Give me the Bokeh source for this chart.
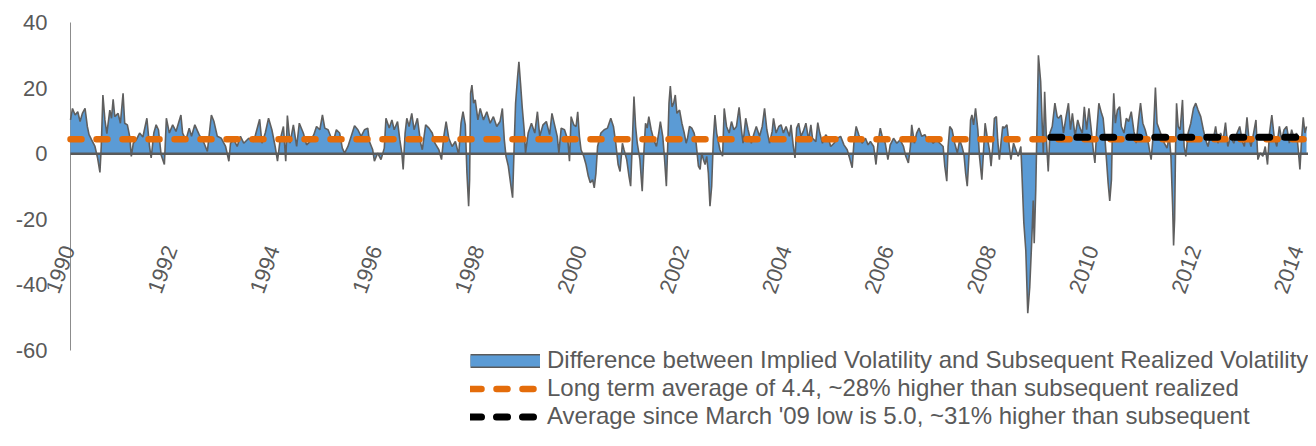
import math
from bokeh.plotting import figure
from bokeh.models import (Range1d, Legend, LegendItem, ColumnDataSource,
                          FixedTicker, LabelSet)
from bokeh.embed import file_html
from bokeh.resources import INLINE
from bokeh.core.properties import value

# ---------------- data ----------------
years_1990_1994 = [1990.000, 1990.039, 1990.090, 1990.142, 1990.187, 1990.232, 1990.284, 1990.329, 1990.362, 1990.413,
                   1990.478, 1990.529, 1990.575, 1990.601, 1990.633, 1990.672, 1990.710, 1990.768, 1990.801, 1990.833,
                   1990.865, 1990.930, 1990.975, 1991.027, 1991.059, 1991.111, 1991.156, 1991.188, 1991.227, 1991.285,
                   1991.350, 1991.414, 1991.492, 1991.544, 1991.576, 1991.628, 1991.673, 1991.718, 1991.770, 1991.834,
                   1991.873, 1991.931, 1991.996, 1992.061, 1992.157, 1992.190, 1992.254, 1992.319, 1992.364, 1992.429,
                   1992.513, 1992.610, 1992.674, 1992.752, 1992.803, 1992.868, 1992.946, 1993.030, 1993.094, 1993.126,
                   1993.191, 1993.256, 1993.320, 1993.385, 1993.482, 1993.579, 1993.695, 1993.740, 1993.805, 1993.869,
                   1993.934, 1993.998, 1994.044, 1994.095, 1994.160, 1994.205, 1994.237, 1994.289, 1994.354, 1994.418,
                   1994.470, 1994.548, 1994.612, 1994.677, 1994.754]
diff_1990_1994 = [10.3, 13.8, 11.8, 12.8, 9.8, 12.3, 13.8, 8.3, 5.8, 4.2,
                  2.2, -1.3, -5.7, 2.2, 17.9, 10.3, 6.1, 13.3, 10.8, 16.6,
                  11.3, 12.3, 9.3, 18.4, 9.3, 8.8, 5.3, -0.8, 3.2, 4.2,
                  6.3, 5.1, 10.8, 2.2, -1.3, 6.3, 8.8, 7.3, -0.3, -3.3,
                  10.8, 6.3, 8.8, 6.8, 11.8, 6.3, 4.2, 7.8, 5.3, 8.8,
                  5.8, 3.2, 0.7, 11.8, 9.8, 5.3, 4.7, 2.2, -2.3, 3.2,
                  4.2, 2.2, 5.3, 3.2, 4.7, 3.7, 10.5, 3.2, 6.3, 10.8,
                  7.3, 2.2, -2.3, 4.2, 8.3, -2.3, 11.6, 3.2, 8.8, 2.2,
                  9.3, 6.3, 2.7, 3.7, 5.8]

years_1994_1999 = [1994.806, 1994.871, 1994.922, 1994.968, 1995.032, 1995.097, 1995.161, 1995.194, 1995.258, 1995.310,
                   1995.355, 1995.420, 1995.484, 1995.549, 1995.614, 1995.678, 1995.743, 1995.807, 1995.840, 1995.904,
                   1995.937, 1996.001, 1996.066, 1996.130, 1996.163, 1996.227, 1996.279, 1996.324, 1996.389, 1996.434,
                   1996.473, 1996.499, 1996.537, 1996.570, 1996.615, 1996.667, 1996.712, 1996.777, 1996.841, 1996.873,
                   1996.938, 1997.003, 1997.067, 1997.119, 1997.196, 1997.248, 1997.293, 1997.338, 1997.390, 1997.455,
                   1997.519, 1997.584, 1997.629, 1997.668, 1997.713, 1997.745, 1997.778, 1997.797, 1997.816, 1997.842,
                   1997.875, 1997.907, 1997.959, 1998.004, 1998.068, 1998.133, 1998.198, 1998.262, 1998.327, 1998.391,
                   1998.437, 1998.475, 1998.508, 1998.553, 1998.605, 1998.637, 1998.669, 1998.695, 1998.734, 1998.760,
                   1998.792, 1998.824, 1998.863, 1998.889, 1998.941, 1999.005, 1999.070, 1999.122, 1999.167, 1999.231,
                   1999.296, 1999.360, 1999.406, 1999.457, 1999.509, 1999.541, 1999.586]
diff_1994_1999 = [8.3, 7.3, 11.8, 7.8, 7.3, 4.7, 5.3, 7.3, 6.3, 1.7,
                  0.2, 2.2, 5.3, 8.5, 7.3, 5.3, 7.3, 7.8, 3.7, 1.2,
                  -2.3, 0.2, -1.8, 1.7, 10.8, 7.8, 10.3, 7.3, 9.8, 4.2,
                  0.2, -4.8, 6.3, 10.8, 8.3, 12.3, 7.3, 10.8, 3.2, 1.2,
                  8.8, 7.8, 6.3, 3.2, 1.2, -1.8, 5.3, 9.8, 4.7, 2.2,
                  3.7, -0.3, 9.3, 12.8, 8.8, -5.9, -16.0, -7.9, 18.4, 20.9,
                  15.4, 16.4, 10.3, 13.8, 10.3, 12.8, 9.3, 11.3, 8.3, 9.8,
                  13.8, 4.2, -0.8, -3.8, -9.9, -13.4, 3.2, 15.4, 23.4, 28.0,
                  21.4, 14.3, 7.3, 0.2, 6.3, 9.3, 6.3, 12.8, 5.3, 8.8,
                  9.8, 5.8, 12.3, 8.8, 5.3, 0.2, 7.8]

years_1999_2004 = [1999.651, 1999.716, 1999.748, 1999.780, 1999.832, 1999.877, 1999.909, 1999.942, 1999.974, 2000.026,
                   2000.071, 2000.116, 2000.155, 2000.200, 2000.232, 2000.265, 2000.297, 2000.362, 2000.426, 2000.491,
                   2000.555, 2000.607, 2000.652, 2000.698, 2000.736, 2000.782, 2000.814, 2000.866, 2000.911, 2000.943,
                   2000.975, 2001.008, 2001.040, 2001.072, 2001.124, 2001.169, 2001.201, 2001.234, 2001.266, 2001.298,
                   2001.344, 2001.395, 2001.447, 2001.492, 2001.524, 2001.570, 2001.602, 2001.641, 2001.667, 2001.692,
                   2001.718, 2001.751, 2001.783, 2001.815, 2001.847, 2001.899, 2001.944, 2001.990, 2002.028, 2002.054,
                   2002.093, 2002.138, 2002.183, 2002.222, 2002.267, 2002.300, 2002.332, 2002.364, 2002.397, 2002.429,
                   2002.461, 2002.493, 2002.526, 2002.558, 2002.590, 2002.623, 2002.687, 2002.739, 2002.771, 2002.816,
                   2002.868, 2002.913, 2002.959, 2003.010, 2003.062, 2003.107, 2003.139, 2003.191, 2003.236, 2003.301,
                   2003.346, 2003.398, 2003.462, 2003.514, 2003.559, 2003.604, 2003.656, 2003.708, 2003.734, 2003.785,
                   2003.837, 2003.882, 2003.927, 2003.979, 2004.044, 2004.076, 2004.121, 2004.154, 2004.186, 2004.225,
                   2004.270, 2004.315, 2004.367, 2004.419, 2004.464]
diff_1999_2004 = [7.3, 4.2, -2.3, 11.3, 8.8, 8.3, 12.8, 5.3, 1.2, -0.8,
                  -3.3, -6.9, -8.9, -7.9, -10.4, -5.9, 2.2, 6.3, 7.3, 7.8,
                  10.8, 8.3, 3.2, -3.3, -5.4, 3.2, 1.2, -1.8, -6.9, -9.9,
                  3.2, 17.4, 8.3, 3.2, -1.8, -11.4, 0.2, 9.3, 7.8, 11.3,
                  7.3, 4.2, 2.2, 6.3, 9.8, 5.3, -0.8, -9.9, 2.2, 15.4,
                  20.6, 14.3, 15.4, 17.9, 12.3, 13.3, 9.3, 6.3, 3.2, 4.7,
                  8.3, 7.8, 6.3, 3.2, -3.8, -4.8, 0.2, -1.8, -3.3, -0.8,
                  -5.9, -16.0, -9.9, 4.2, 11.8, 6.3, 1.2, -0.8, 13.8, 8.3,
                  6.3, 9.8, 7.3, 8.3, 14.1, 7.3, 3.2, 10.8, 7.3, 3.2,
                  5.8, 8.3, 5.3, 8.3, 13.8, 7.3, 3.2, 6.8, 10.8, 6.3,
                  8.3, 8.8, 6.3, 8.3, 5.3, 8.8, 2.2, -1.3, 7.8, 9.3,
                  5.3, 6.8, 9.3, 4.2, 8.8]

years_2004_2009 = [2004.496, 2004.561, 2004.599, 2004.638, 2004.690, 2004.754, 2004.806, 2004.851, 2004.916, 2004.981,
                   2005.045, 2005.110, 2005.174, 2005.220, 2005.271, 2005.304, 2005.349, 2005.400, 2005.465, 2005.530,
                   2005.581, 2005.627, 2005.691, 2005.736, 2005.775, 2005.820, 2005.866, 2005.917, 2005.969, 2006.014,
                   2006.079, 2006.143, 2006.208, 2006.273, 2006.318, 2006.369, 2006.408, 2006.434, 2006.486, 2006.531,
                   2006.576, 2006.628, 2006.692, 2006.757, 2006.809, 2006.854, 2006.919, 2006.983, 2007.048, 2007.080,
                   2007.119, 2007.145, 2007.177, 2007.222, 2007.274, 2007.325, 2007.371, 2007.416, 2007.455, 2007.487,
                   2007.519, 2007.552, 2007.584, 2007.610, 2007.642, 2007.681, 2007.726, 2007.758, 2007.804, 2007.842,
                   2007.868, 2007.907, 2007.952, 2007.984, 2008.017, 2008.049, 2008.088, 2008.114, 2008.146, 2008.178,
                   2008.211, 2008.243, 2008.294, 2008.340, 2008.372, 2008.424, 2008.469, 2008.514, 2008.566, 2008.585,
                   2008.624, 2008.663, 2008.701, 2008.740, 2008.779, 2008.808, 2008.827, 2008.857, 2008.909, 2008.953,
                   2008.985, 2009.005, 2009.031, 2009.069, 2009.101, 2009.134, 2009.179, 2009.231, 2009.276]
diff_2004_2009 = [4.7, 3.7, 9.5, 6.3, 3.2, 5.8, 4.7, 2.2, 3.2, 4.7,
                  5.3, 2.7, 1.2, -1.3, -4.3, 3.2, 8.3, 5.8, 3.2, 4.7,
                  2.7, 3.7, 2.2, -3.3, 3.2, 7.8, 4.7, 3.2, -1.8, 2.7,
                  4.7, 3.2, 4.2, 2.2, -0.8, -2.8, 2.2, 8.8, 3.2, 6.3,
                  7.8, 5.3, 5.8, 3.7, 4.2, 3.2, 4.2, 3.2, 2.2, -3.8,
                  -8.4, 2.2, 8.3, 7.3, 3.2, 0.2, 4.2, 2.2, -0.3, -5.9,
                  -9.9, -0.8, 10.3, 11.8, 8.8, 13.8, 7.3, -0.8, -7.9, 2.2,
                  9.3, 5.3, 1.2, -3.8, 2.2, 10.8, 11.3, 4.2, -1.8, 3.2,
                  8.3, 7.8, 8.8, 2.2, -1.8, 3.2, 1.2, -0.8, 2.2, -5.0,
                  -21.0, -29.5, -48.6, -40.6, -26.4, -14.3, -27.3, -11.2, 30.0, 22.0,
                  8.3, 0.2, 18.9, 3.2, -5.4, 6.3, 8.3, 15.4, 11.3]

years_2009_2014 = [2009.302, 2009.354, 2009.399, 2009.444, 2009.496, 2009.535, 2009.573, 2009.625, 2009.677, 2009.722,
                   2009.767, 2009.806, 2009.851, 2009.896, 2009.935, 2009.980, 2010.013, 2010.045, 2010.090, 2010.142,
                   2010.174, 2010.206, 2010.239, 2010.271, 2010.303, 2010.336, 2010.355, 2010.381, 2010.413, 2010.452,
                   2010.497, 2010.529, 2010.581, 2010.626, 2010.672, 2010.723, 2010.775, 2010.820, 2010.865, 2010.904,
                   2010.949, 2010.995, 2011.046, 2011.111, 2011.156, 2011.195, 2011.227, 2011.272, 2011.318, 2011.369,
                   2011.421, 2011.466, 2011.498, 2011.531, 2011.550, 2011.570, 2011.589, 2011.608, 2011.640, 2011.679,
                   2011.724, 2011.756, 2011.789, 2011.834, 2011.886, 2011.938, 2011.983, 2012.028, 2012.080, 2012.131,
                   2012.177, 2012.222, 2012.274, 2012.325, 2012.371, 2012.416, 2012.468, 2012.519, 2012.564, 2012.609,
                   2012.661, 2012.726, 2012.790, 2012.842, 2012.894, 2012.933, 2012.984, 2013.017, 2013.062, 2013.113,
                   2013.159, 2013.197, 2013.243, 2013.294, 2013.340, 2013.385, 2013.424, 2013.469, 2013.514, 2013.566,
                   2013.617, 2013.662, 2013.708, 2013.759, 2013.811, 2013.856, 2013.902, 2013.953, 2013.986, 2014.018,
                   2014.050, 2014.083, 2014.115, 2014.147]
diff_2009_2014 = [10.8, 11.8, 6.3, 10.8, 15.4, 7.3, 12.3, 5.3, 10.3, 7.8,
                  6.3, 14.3, 7.3, 13.8, 8.3, 1.2, -2.8, 6.3, 15.4, 12.3,
                  10.8, 5.3, -1.8, -8.9, -14.4, -7.9, 7.3, 18.4, 9.3, 13.3,
                  14.3, 8.3, 6.3, 10.8, 9.8, 12.8, 6.8, 3.2, 10.3, 15.4,
                  9.3, 7.3, 4.2, -1.8, 6.3, 20.2, 9.3, 7.3, 5.3, 3.2,
                  1.7, 5.3, -0.8, -16.0, -28.0, -20.0, 2.2, 15.4, 8.3, 7.3,
                  16.4, 2.2, -0.8, 6.3, 9.3, 13.8, 15.4, 13.3, 11.3, 7.3,
                  4.2, 2.2, 5.8, 4.2, 8.3, 3.2, 6.3, 4.2, 9.5, 2.2,
                  5.3, 3.2, 6.3, 8.3, 3.7, 2.2, 11.1, 5.3, 2.2, 6.3,
                  10.3, -1.8, 0.2, -0.8, 2.2, -3.3, 6.3, 11.8, 5.3, 2.2,
                  8.3, 4.2, 7.3, 8.3, 3.2, 7.3, 4.7, 6.3, 1.2, -4.8,
                  4.2, 11.1, 6.3, 8.3]

long_term_avg = 4.4
recent_avg = 5.0
recent_avg_start = 2009.15          # March '09 low
data_start, data_end = 1990.0, 2014.147
y_min, y_max = -60, 40
y_ticks = [-60, -40, -20, 0, 20, 40]
y_tick_text = {-60: "-60", -40: "-40", -20: "-20", 0: "0", 20: "20", 40: "40"}
tick_years = list(range(1990, 2015, 2))
tick_labels = [str(y) for y in tick_years]
legend_labels = [
    "Difference between Implied Volatility and Subsequent Realized Volatility",
    "Long term average of 4.4, ~28% higher than subsequent realized",
    "Average since March '09 low is 5.0, ~31% higher than subsequent",
]

# ---------------- assemble ----------------
years, diffs = [], []
for ys, vs in [(years_1990_1994, diff_1990_1994), (years_1994_1999, diff_1994_1999),
               (years_1999_2004, diff_1999_2004), (years_2004_2009, diff_2004_2009),
               (years_2009_2014, diff_2009_2014)]:
    n = min(len(ys), len(vs))
    years += ys[:n]
    diffs += vs[:n]

# ---------------- layout (pixels) ----------------
W, H = 1308, 430
FRAME_LEFT = 47                 # right edge of the value labels
AXIS_X = 70                     # pixel of the vertical axis line (1990)
PX_PER_YEAR = (1298.5 - AXIS_X) / 24.0
Y_TOP_PX, Y_BOT_PX = 22, 350    # pixels of +40 and -60
PX_PER_UNIT = (Y_BOT_PX - Y_TOP_PX) / float(y_max - y_min)

x_lo = data_start - (AXIS_X - FRAME_LEFT) / PX_PER_YEAR
x_hi = data_start + (W - AXIS_X) / PX_PER_YEAR
y_hi = y_max + Y_TOP_PX / PX_PER_UNIT
y_lo = y_min - (H - Y_BOT_PX) / PX_PER_UNIT

TEXT = "#595959"
FONT = "Liberation Sans"

p = figure(width=W, height=H, output_backend="svg", toolbar_location=None,
           x_range=Range1d(x_lo, x_hi), y_range=Range1d(y_lo, y_hi),
           x_axis_type=None,
           min_border_left=FRAME_LEFT, min_border_right=0, min_border_top=0, min_border_bottom=0)
p.outline_line_color = None
p.ygrid.grid_line_color = None
p.background_fill_color = "white"
p.border_fill_color = "white"

ax = p.yaxis[0]
ax.ticker = FixedTicker(ticks=y_ticks)
ax.major_label_overrides = y_tick_text
ax.major_tick_out = 0
ax.major_tick_in = 0
ax.minor_tick_out = 0
ax.minor_tick_in = 0
ax.axis_line_color = None
ax.major_label_text_font = FONT
ax.major_label_text_font_size = "22px"
ax.major_label_text_color = TEXT
ax.major_label_standoff = 0

# vertical axis line from -60 to 40 at 1990
p.segment(x0=[data_start], y0=[y_min], x1=[data_start], y1=[y_max],
          line_color="#8c8c8c", line_width=1)

src = ColumnDataSource(dict(x=years, y=diffs))
p.varea(x="x", y1=0, y2="y", source=src, fill_color="#5B9BD5")
p.line(x="x", y="y", source=src, line_color="#5f5f5f", line_width=1.6)

# zero line
p.line(x=[data_start, x_hi], y=[0, 0], line_color="#5a5a5a", line_width=2.6)

orange = p.line(x=[data_start, x_hi], y=[long_term_avg, long_term_avg],
                line_color="#E46C0A", line_width=6.5, line_dash="11 15", line_cap="round")
black = p.line(x=[recent_avg_start, x_hi], y=[recent_avg, recent_avg],
               line_color="#000000", line_width=7, line_dash="11 15", line_cap="round")

# year labels
year_label_y = -28.3
lab_src = ColumnDataSource(dict(x=tick_years, y=[year_label_y] * len(tick_years), text=tick_labels))
p.add_layout(LabelSet(x="x", y="y", text="text", source=lab_src, x_offset=-2,
                      angle=math.radians(70), text_align="right", text_baseline="middle",
                      text_font=value(FONT), text_font_size="22px", text_color=TEXT))

# legend swatch renderers (a single point draws no line in the plot; used only for the legend)
sw_src = ColumnDataSource(dict(x=[data_start], y=[0]))
sw_outline = p.line(x="x", y="y", source=sw_src, line_color="#5a5a5a", line_width=14)
sw_fill = p.line(x="x", y="y", source=sw_src, line_color="#5B9BD5", line_width=11)

legend = Legend(items=[LegendItem(label=legend_labels[0], renderers=[sw_outline, sw_fill]),
                       LegendItem(label=legend_labels[1], renderers=[orange]),
                       LegendItem(label=legend_labels[2], renderers=[black])],
                location=(470 - FRAME_LEFT, 0), orientation="vertical",
                glyph_width=70, glyph_height=27, label_height=27, label_standoff=7,
                spacing=0, padding=0, margin=0,
                border_line_color=None, background_fill_alpha=0,
                label_text_font=FONT, label_text_font_size="24px", label_text_color=TEXT)
p.add_layout(legend)

open("out.html", "w").write(file_html(p, INLINE))
